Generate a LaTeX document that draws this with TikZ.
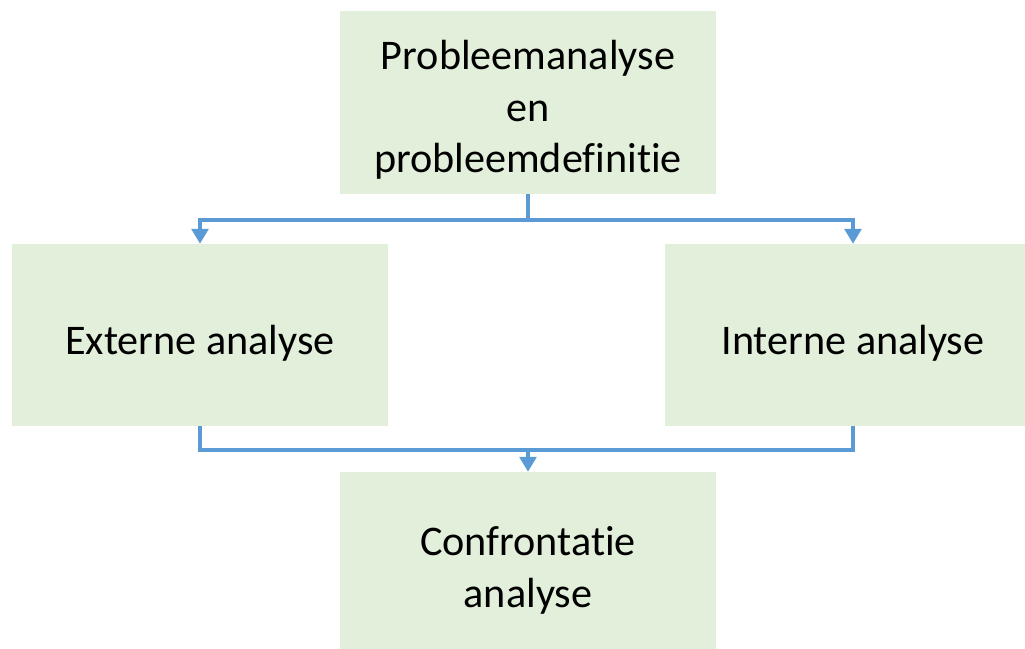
\documentclass[tikz,border=0pt]{standalone}
\usepackage{fontspec}
\setmainfont{Carlito}[Ligatures={NoCommon,NoRare,NoContextual}]
\definecolor{boxgreen}{RGB}{226,239,218}
\definecolor{lineblue}{RGB}{91,155,213}
\usepackage{tikz}
\usetikzlibrary{arrows.meta,positioning,calc}

\begin{document}
\begin{tikzpicture}[x=0.025cm, y=-0.025cm,
  stagebox/.style={rectangle, fill=boxgreen, inner sep=0pt, align=center,
    minimum width=9.4cm, minimum height=4.55cm,
    font=\fontsize{30}{36.5}\selectfont},
  oneline/.style={text height=27.5pt, text depth=0pt},
  twolines/.style={text height=63pt, text depth=0pt},
  threelines/.style={text height=99.5pt, text depth=0pt},
  conn/.style={draw=lineblue, line width=2.2pt},
  connarrow/.style={conn, -{Triangle[length=0.37cm, width=0.42cm]}}]
  %% Canvas
  \clip (0,0) rectangle (1025,649);
  \useasboundingbox (0,0) rectangle (1025,649);

  %% Stages
  \node[stagebox, threelines] (prob)     at (528,102.5) {Probleemanalyse\\en\\probleemdefinitie};
  \node[stagebox, oneline]    (extern)   at (200,335)   {Externe analyse};
  \node[stagebox, oneline]    (intern)   at (853,335)   {Interne analyse};
  \node[stagebox, twolines]   (confront) at (528,563)   {Confrontatie\\analyse};

  %% Split and merge points
  \coordinate (split) at (528,220);
  \coordinate (merge) at (528,450);

  %% Connectors
  \draw[conn] (prob.south) -- (split);
  \draw[connarrow] (split) -| (extern.north);
  \draw[connarrow] (split) -| (intern.north);
  \draw[conn] (extern.south) |- (merge);
  \draw[conn] (intern.south) |- (merge);
  \draw[connarrow] (merge) -- (confront.north);
\end{tikzpicture}
\end{document}
